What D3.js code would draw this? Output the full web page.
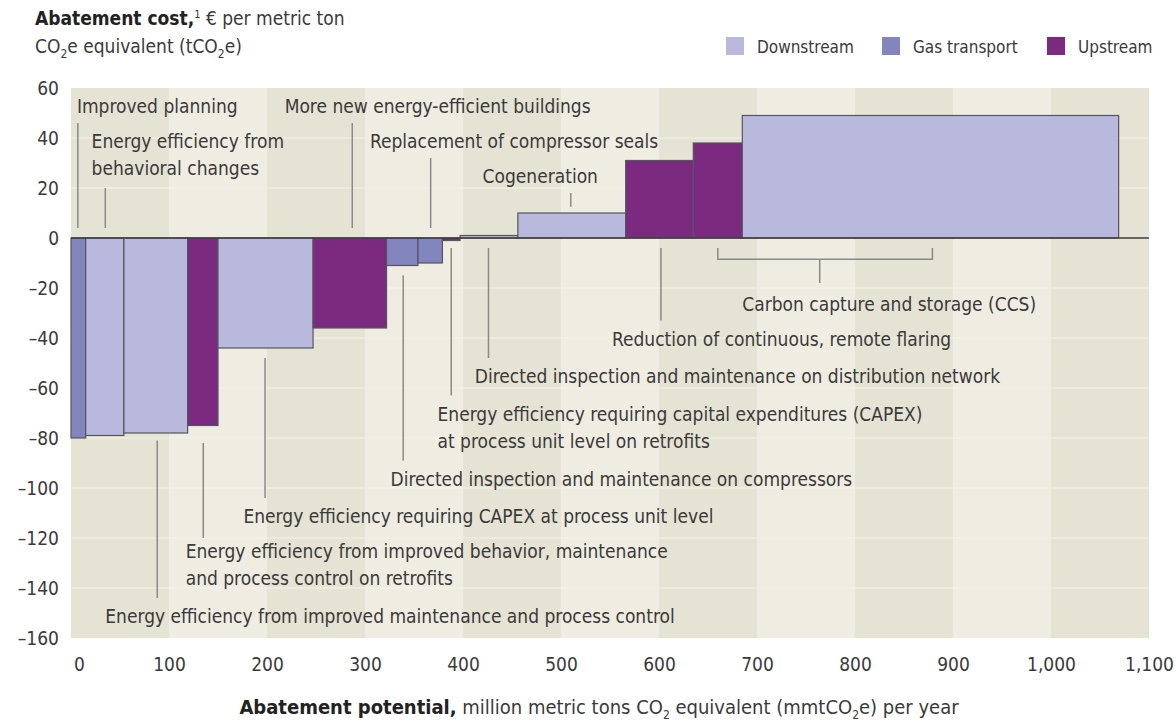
<!DOCTYPE html>
<html>
<head>
<meta charset="utf-8">
<script src="https://cdn.jsdelivr.net/npm/d3@7"></script>
<style>
  body { margin: 0; background: #fff; }
  text { font-family: "DejaVu Sans Condensed", "Liberation Sans Narrow", sans-serif; fill: #3a3a3a; }
</style>
</head>
<body>
<div id="chart"></div>
<script>
// ============ Data ============================================
var sectors = ["Gas transport", "Downstream", "Downstream", "Upstream", "Downstream", "Upstream",
  "Gas transport", "Gas transport", "Upstream", "Downstream", "Downstream", "Upstream", "Upstream", "Downstream"];
// abatement potential of each lever, mmtCO2e per year (bar widths)
var potentials = [15, 39, 65, 31, 97, 75, 32, 25, 18, 59, 110, 69, 50, 384];
// abatement cost, € per tCO2e (bar heights)
var costs = [-80, -79, -78, -75, -44, -36, -11, -10, -1, 1, 10, 31, 38, 49];

var legendKeys = ["Downstream", "Gas transport", "Upstream"];
var xTicks = [0, 100, 200, 300, 400, 500, 600, 700, 800, 900, 1000, 1100];
var yTicks = [-160, -140, -120, -100, -80, -60, -40, -20, 0, 20, 40, 60];

// callouts: leader at x from y1 to y2, text starting at tx / ty (all in data units)
var callouts = [
  {x: 7, y1: 46, y2: 4, tx: 6, ty: 50, lines: ["Improved planning"]},
  {x: 35, y1: 20, y2: 4, tx: 21, ty: 36, lines: ["Energy efficiency from", "behavioral changes"]},
  {x: 287, y1: 46, y2: 4, tx: 218, ty: 50, lines: ["More new energy-efficient buildings"]},
  {x: 367, y1: 32, y2: 4, tx: 305, ty: 36, lines: ["Replacement of compressor seals"]},
  {x: 510, y1: 18, y2: 12.5, tx: 420, ty: 22, lines: ["Cogeneration"]},
  {x: 602, y1: -4, y2: -33, tx: 552, ty: -43, lines: ["Reduction of continuous, remote flaring"]},
  {x: 426, y1: -4, y2: -48, tx: 412, ty: -58, lines: ["Directed inspection and maintenance on distribution network"]},
  {x: 388, y1: -4, y2: -63, tx: 374, ty: -73, lines: ["Energy efficiency requiring capital expenditures (CAPEX)", "at process unit level on retrofits"]},
  {x: 339, y1: -15, y2: -89, tx: 326, ty: -99, lines: ["Directed inspection and maintenance on compressors"]},
  {x: 198, y1: -48, y2: -104, tx: 176, ty: -114, lines: ["Energy efficiency requiring CAPEX at process unit level"]},
  {x: 135, y1: -82, y2: -120, tx: 117, ty: -128, lines: ["Energy efficiency from improved behavior, maintenance", "and process control on retrofits"]},
  {x: 88, y1: -81, y2: -144, tx: 35, ty: -154, lines: ["Energy efficiency from improved maintenance and process control"]}
];
// CCS bracket: from x0 to x1, tick at xm
var ccs = {x0: 660, x1: 879, xm: 764, top: -4, bar: -8.5, tip: -18, tx: 685, ty: -29, label: "Carbon capture and storage (CCS)"};

//============ Set up chart =====================
var svgWidth = 1176;
var svgHeight = 722;

var margin = {top: 88, right: 27, bottom: 84, left: 71};
var width = svgWidth - margin.left - margin.right;
var height = svgHeight - margin.top - margin.bottom;

var colors = d3.scaleOrdinal()
  .domain(legendKeys)
  .range(["#b9b9de", "#8385bf", "#7b2a7f"]);

var svg = d3.select("#chart")
  .append("svg")
  .attr("width", svgWidth)
  .attr("height", svgHeight);

var chartGroup = svg.append("g")
  .attr("transform", `translate(${margin.left}, ${margin.top})`);

var xScale = d3.scaleLinear().domain([0, 1100]).range([0, width]);
var yScale = d3.scaleLinear().domain([-160, 60]).range([height, 0]);

// bars laid side by side: start of each bar = running total of potentials
var ends = Array.from(d3.cumsum(potentials));
var bars = potentials.map(function(p, i) {
  return {sector: sectors[i], x0: ends[i] - p, x1: ends[i], cost: costs[i]};
});

//============ Background stripes and grid =====================
chartGroup.append("g")
  .selectAll("rect")
  .data(d3.range(0, 1100, 100))
  .enter()
  .append("rect")
  .attr("x", d => xScale(d))
  .attr("y", 0)
  .attr("width", d => xScale(d + 100) - xScale(d))
  .attr("height", height)
  .attr("fill", d => (d / 100) % 2 === 0 ? "#e5e3d3" : "#efede2");

chartGroup.append("g")
  .selectAll("line")
  .data(yTicks.filter(d => d > -160 && d < 60 && d !== 0))
  .enter()
  .append("line")
  .attr("x1", 0)
  .attr("x2", width)
  .attr("y1", d => yScale(d))
  .attr("y2", d => yScale(d))
  .attr("stroke", "#f5f3ea")
  .attr("stroke-width", 1.2);

//============ Bars =====================
chartGroup.append("g")
  .selectAll("rect")
  .data(bars)
  .enter()
  .append("rect")
  .attr("x", d => xScale(d.x0))
  .attr("width", d => xScale(d.x1) - xScale(d.x0))
  .attr("y", d => yScale(Math.max(0, d.cost)))
  .attr("height", d => Math.abs(yScale(d.cost) - yScale(0)))
  .attr("fill", d => colors(d.sector))
  .attr("stroke", "#55555f")
  .attr("stroke-width", 1.2);

// zero line
chartGroup.append("line")
  .attr("x1", 0)
  .attr("x2", width)
  .attr("y1", yScale(0))
  .attr("y2", yScale(0))
  .attr("stroke", "#3d3d3d")
  .attr("stroke-width", 1.5);

//============ Axes =====================
var leftAxis = d3.axisLeft(yScale)
  .tickValues(yTicks)
  .tickSize(0)
  .tickPadding(12)
  .tickFormat(d => d < 0 ? "\u2013" + Math.abs(d) : d);

chartGroup.append("g")
  .call(leftAxis)
  .call(g => g.select(".domain").remove())
  .selectAll("text")
  .attr("font-size", 19)
  .attr("font-family", null)
  .attr("fill", "#3a3a3a");

var bottomAxis = d3.axisBottom(xScale)
  .tickValues(xTicks)
  .tickSize(0)
  .tickPadding(20)
  .tickFormat(d3.format(","));

chartGroup.append("g")
  .attr("transform", `translate(0, ${height})`)
  .call(bottomAxis)
  .call(g => g.select(".domain").remove())
  .selectAll("text")
  .attr("font-size", 19)
  .attr("font-family", null)
  .attr("fill", "#3a3a3a")
  .attr("dx", d => d === 0 ? 8 : 0);

//============ Callouts =====================
var calloutGroup = chartGroup.append("g");

calloutGroup.selectAll("line")
  .data(callouts)
  .enter()
  .append("line")
  .attr("x1", d => xScale(d.x))
  .attr("x2", d => xScale(d.x))
  .attr("y1", d => yScale(d.y1))
  .attr("y2", d => yScale(d.y2))
  .attr("stroke", "#8a8a8a")
  .attr("stroke-width", 1.5);

calloutGroup.selectAll("text")
  .data(callouts)
  .enter()
  .append("text")
  .attr("x", d => xScale(d.tx))
  .attr("y", d => yScale(d.ty))
  .attr("font-size", 19)
  .each(function(d) {
    var t = d3.select(this);
    d.lines.forEach(function(line, i) {
      t.append("tspan")
        .attr("x", xScale(d.tx))
        .attr("dy", i === 0 ? 0 : 27)
        .text(line);
    });
  });

// CCS bracket
calloutGroup.append("path")
  .attr("d", `M${xScale(ccs.x0)},${yScale(ccs.top)} V${yScale(ccs.bar)} H${xScale(ccs.x1)} V${yScale(ccs.top)}
    M${xScale(ccs.xm)},${yScale(ccs.bar)} V${yScale(ccs.tip)}`)
  .attr("fill", "none")
  .attr("stroke", "#8a8a8a")
  .attr("stroke-width", 1.5);

calloutGroup.append("text")
  .attr("x", xScale(ccs.tx))
  .attr("y", yScale(ccs.ty))
  .attr("font-size", 19)
  .text(ccs.label);

//============ Titles =====================
var yTitle = svg.append("text")
  .attr("x", 35)
  .attr("y", 25)
  .attr("font-size", 19);
yTitle.append("tspan").attr("font-weight", "bold").attr("fill", "#222").text("Abatement cost,");
yTitle.append("tspan").attr("font-size", 11).attr("dy", -7).text("1");
yTitle.append("tspan").attr("dy", 7).text(" \u20ac per metric ton");

var yTitle2 = svg.append("text")
  .attr("x", 35)
  .attr("y", 53)
  .attr("font-size", 19);
yTitle2.append("tspan").text("CO");
yTitle2.append("tspan").attr("font-size", 12).attr("dy", 5).text("2");
yTitle2.append("tspan").attr("dy", -5).text("e equivalent (tCO");
yTitle2.append("tspan").attr("font-size", 12).attr("dy", 5).text("2");
yTitle2.append("tspan").attr("dy", -5).text("e)");

var xTitle = svg.append("text")
  .attr("x", 599)
  .attr("y", 714)
  .attr("text-anchor", "middle")
  .attr("font-size", 20);
xTitle.append("tspan").attr("font-weight", "bold").attr("fill", "#222").text("Abatement potential,");
xTitle.append("tspan").text(" million metric tons CO");
xTitle.append("tspan").attr("font-size", 12).attr("dy", 5).text("2");
xTitle.append("tspan").attr("dy", -5).text(" equivalent (mmtCO");
xTitle.append("tspan").attr("font-size", 12).attr("dy", 5).text("2");
xTitle.append("tspan").attr("dy", -5).text("e) per year");

//============ Legend =====================
var legendX = [726, 882, 1047];
var legend = svg.append("g")
  .selectAll("g")
  .data(legendKeys)
  .enter()
  .append("g")
  .attr("transform", (d, i) => `translate(${legendX[i]}, 37)`);

legend.append("rect")
  .attr("width", 18)
  .attr("height", 18)
  .attr("fill", d => colors(d));

legend.append("text")
  .attr("x", 31)
  .attr("y", 16)
  .attr("font-size", 17)
  .text(d => d);
</script>
</body>
</html>
